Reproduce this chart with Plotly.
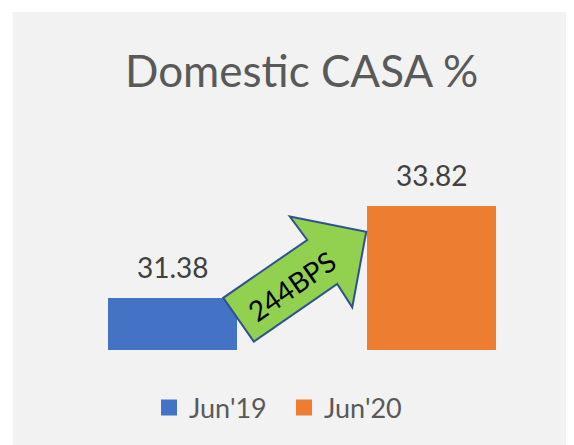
import plotly.graph_objects as go

# ---- data ----
categories = ["Jun'19", "Jun'20"]
values = [31.38, 33.82]
value_labels = ["31.38", "33.82"]
colors = ["#4472C4", "#ED7D31"]
title_text = "Domestic CASA %"
arrow_text = "244BPS"

W, H = 574, 445
OFF = 8  # page body margin in the browser
ML, MR, MT, MB = 43 - OFF, 21, 161 - OFF, 103
PW, PH = W - ML - MR, H - MT - MB

# helpers: reference-screen pixel -> paper fraction
def X(px):
    return (px - OFF - ML) / PW

def Y(py):
    return (MT + PH - (py - OFF)) / PH

FONT = "Lato"

fig = go.Figure()
for i, (c, v, col) in enumerate(zip(categories, values, colors)):
    fig.add_trace(go.Bar(x=[i], y=[v - 30], base=30, name=c,
                         marker=dict(color=col, line=dict(width=0)),
                         width=0.5, hoverinfo="skip", showlegend=False))
for c, col in zip(categories, colors):
    fig.add_trace(go.Scatter(x=[None], y=[None], mode="markers", name=c,
                             marker=dict(symbol="square", size=16, color=col)))

annotations = []
for i, (v, lab) in enumerate(zip(values, value_labels)):
    annotations.append(dict(x=i, y=v, xref="x", yref="y", text=lab, showarrow=False,
                            yanchor="bottom", yshift=12,
                            font=dict(family=FONT, size=28, color="#404040")))

# arrow between bars (data coords, anchored to bar tops)
v0, v1 = values
pts = [(0.196, v0), (0.314, 30.22), (0.636, 31.746), (0.694, 31.13),
       (0.748, 33.13), (0.453, 33.53), (0.520, 32.91)]
path = "M " + " L ".join(f"{x},{y}" for x, y in pts) + " Z"
shapes = [
    dict(type="path", path=path, xref="x", yref="y", fillcolor="#92D050",
         line=dict(color="#2F528F", width=2), layer="above"),
    dict(type="rect", xref="paper", yref="paper", x0=X(-20), x1=X(12.5), y0=Y(H + 20), y1=Y(-20),
         fillcolor="white", line=dict(width=0), layer="above"),
    dict(type="rect", xref="paper", yref="paper", x0=X(-20), x1=X(W + 20), y0=Y(12), y1=Y(-20),
         fillcolor="white", line=dict(width=0), layer="above"),
]
annotations.append(dict(x=0.458, y=31.70, xref="x", yref="y", text=arrow_text, showarrow=False,
                        textangle=-34.7, font=dict(family=FONT, size=28, color="#000000")))
annotations.append(dict(x=X(301), y=Y(70), xref="paper", yref="paper", text=title_text,
                        showarrow=False, yanchor="middle",
                        font=dict(family=FONT, size=44, color="#595959")))

fig.update_layout(
    width=W, height=H,
    margin=dict(l=ML, r=MR, t=MT, b=MB, pad=0),
    paper_bgcolor="#F2F2F2", plot_bgcolor="#F2F2F2",
    xaxis=dict(range=[-0.5, 1.5], visible=False, fixedrange=True),
    yaxis=dict(range=[30, 35], visible=False, fixedrange=True),
    showlegend=True,
    legend=dict(orientation="h", x=X(284), xanchor="center", y=Y(408), yanchor="middle",
                font=dict(family=FONT, size=27, color="#595959"),
                entrywidth=90, bgcolor="rgba(0,0,0,0)"),
    annotations=annotations, shapes=shapes, bargap=0,
)

fig.write_html("out.html")
